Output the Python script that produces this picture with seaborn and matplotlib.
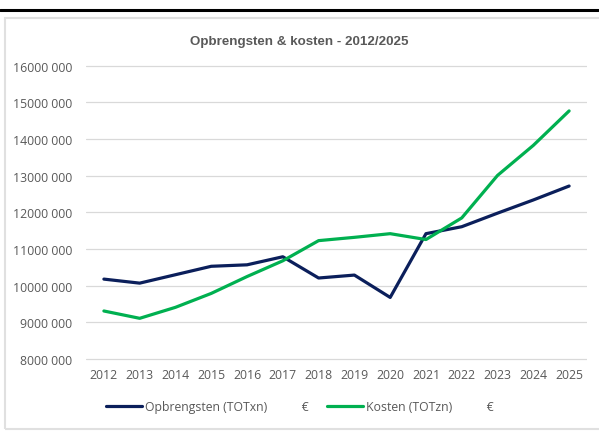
import matplotlib
matplotlib.use("Agg")
import matplotlib.pyplot as plt
import seaborn as sns
import pandas as pd
from matplotlib.lines import Line2D
from matplotlib.patches import Rectangle
from matplotlib.ticker import FuncFormatter

# data
years = [str(y) for y in range(2012, 2026)]
opbrengsten = [10180000, 10070000, 10300000, 10530000, 10570000, 10790000, 10210000,
               10290000, 9680000, 11420000, 11610000, 11980000, 12340000, 12720000]
kosten = [9310000, 9110000, 9410000, 9790000, 10250000, 10680000, 11230000,
          11320000, 11420000, 11260000, 11850000, 13010000, 13830000, 14770000]
labels = ["Opbrengsten (TOTxn)           €", "Kosten (TOTzn)           €"]
colors = ["#0B1F5B", "#00B050"]

df = pd.DataFrame({"year": years * 2,
                   "value": opbrengsten + kosten,
                   "serie": [labels[0]] * len(years) + [labels[1]] * len(years)})

sns.set_style("white")
plt.rcParams["font.family"] = ["Open Sans", "DejaVu Sans"]

fig = plt.figure(figsize=(5.99, 4.35), dpi=100)
ax = fig.add_axes([86 / 599, 1 - 366 / 435, 501 / 599, (366 - 50) / 435])

sns.lineplot(data=df, x="year", y="value", hue="serie", palette=colors,
             linewidth=2.3, ax=ax, legend=False, sort=False)

ax.set_xlim(-0.5, len(years) - 0.5)
ax.set_ylim(7836000, 16460000)
ax.set_yticks(range(8000000, 16000001, 1000000))
ax.yaxis.set_major_formatter(FuncFormatter(lambda v, p: f"{int(v) // 1000} {int(v) % 1000:03d}"))
ax.grid(axis="y", color="#d9d9d9", linewidth=0.9)
ax.set_axisbelow(True)
for s in ax.spines.values():
    s.set_visible(False)
ax.tick_params(axis="both", length=0, labelsize=8.8, colors="#595959")
ax.tick_params(axis="x", pad=2)
ax.tick_params(axis="y", pad=10)
ax.set_xlabel("")
ax.set_ylabel("")

fig.text(0.5, 1 - 42 / 435, "Opbrengsten & kosten - 2012/2025", ha="center", va="center",
         fontsize=9.6, fontweight="bold", color="#595959", family="Liberation Sans")

handles = [Line2D([], [], color=c, linewidth=2.3) for c in colors]
fig.legend(handles, labels, loc="center", bbox_to_anchor=(0.5, 1 - 408 / 435), ncol=2,
           frameon=False, fontsize=8.8, labelcolor="#595959", handlelength=3.0,
           handletextpad=0.2, columnspacing=1.5)

# chart frame and top rule
fig.add_artist(Rectangle((5 / 599, 1 - 430 / 435), 600 / 599, 411 / 435, transform=fig.transFigure,
                         fill=False, edgecolor="#e0e0e0", linewidth=1.5))
fig.add_artist(Line2D([0, 598 / 599], [1 - 11 / 435] * 2, transform=fig.transFigure,
                      color="black", linewidth=2.2))

fig.savefig("out.png", dpi=100)
